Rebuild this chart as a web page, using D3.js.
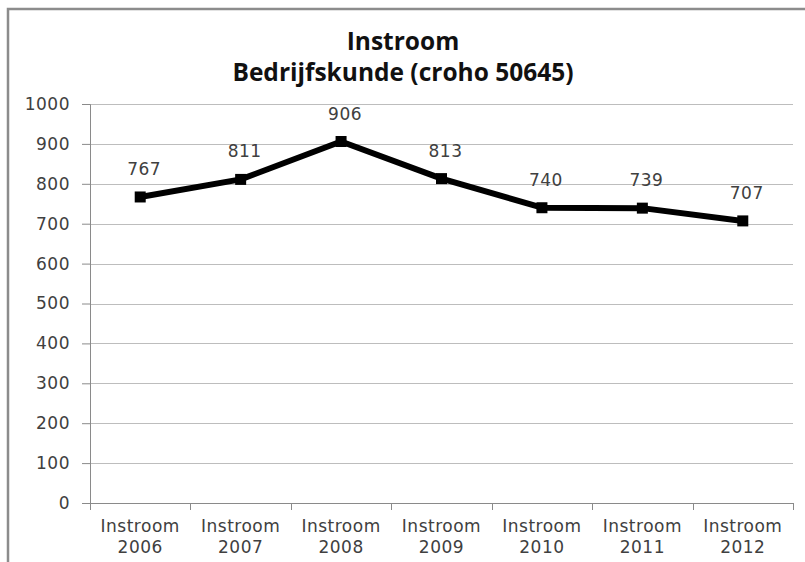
<!DOCTYPE html>
<html>
<head>
<meta charset="utf-8">
<script src="https://cdn.jsdelivr.net/npm/d3@7"></script>
<style>
    body { margin: 0; background: #fff; }
    svg { display: block; }
</style>
</head>
<body>
<div id="wrapper"></div>
<script>
// data
const years = ['2006', '2007', '2008', '2009', '2010', '2011', '2012']
const instroom = [767, 811, 906, 813, 740, 739, 707]
const yTicks = [0, 100, 200, 300, 400, 500, 600, 700, 800, 900, 1000]
const titleLines = ['Instroom', 'Bedrijfskunde (croho 50645)']

const data = years.map((y, i) => ({ year: y, value: instroom[i] }))
const xAccessor = d => d.year
const yAccessor = d => d.value

// dimensions
const dms = {
    width: 805,
    height: 562,
    margins: { top: 104, right: 12, bottom: 59, left: 90 }
}
dms.boundedWidth = dms.width - dms.margins.left - dms.margins.right
dms.boundedHeight = dms.height - dms.margins.top - dms.margins.bottom

const labelFont = sel => sel
    .style('font-family', '"DejaVu Sans", sans-serif')
    .style('font-size', '17px')
    .style('letter-spacing', '0.5px')
    .attr('fill', '#404040')

const wrapper = d3.select('#wrapper')
    .append('svg')
        .attr('width', dms.width)
        .attr('height', dms.height)

// outer chart border (right/bottom edges fall outside the frame)
wrapper.append('rect')
    .attr('x', 8)
    .attr('y', 9)
    .attr('width', dms.width + 20)
    .attr('height', dms.height + 20)
    .attr('fill', 'none')
    .attr('stroke', '#8c8c8c')
    .attr('stroke-width', 2.5)

// title
wrapper.append('text')
    .attr('x', 403)
    .attr('y', 50)
    .attr('text-anchor', 'middle')
    .style('font-family', '"Open Sans", sans-serif')
    .style('font-weight', 700)
    .style('font-size', '24.5px')
    .attr('fill', '#111')
    .selectAll('tspan')
    .data(titleLines)
    .join('tspan')
        .attr('x', 403)
        .attr('dy', (d, i) => i === 0 ? 0 : 31)
        .text(d => d)

const bounds = wrapper.append('g')
    .attr('transform', `translate(${dms.margins.left},${dms.margins.top})`)

// scales
const xScale = d3.scaleBand()
    .domain(years)
    .range([0, dms.boundedWidth])

const yScale = d3.scaleLinear()
    .domain([0, 1000])
    .range([dms.boundedHeight, 0])

// gridlines
bounds.append('g')
    .selectAll('line')
    .data(yTicks.filter(t => t > 0))
    .join('line')
        .attr('x1', 0)
        .attr('x2', dms.boundedWidth)
        .attr('y1', d => Math.round(yScale(d)) + 0.5)
        .attr('y2', d => Math.round(yScale(d)) + 0.5)
        .attr('stroke', '#bdbdbd')
        .attr('stroke-width', 1)

// y axis
const yAxis = bounds.append('g')
    .call(d3.axisLeft(yScale)
        .tickValues(yTicks)
        .tickFormat(d3.format('d'))
        .tickSize(8)
        .tickPadding(12))
yAxis.select('.domain').attr('stroke', '#8a8a8a')
yAxis.selectAll('.tick line').attr('stroke', '#8a8a8a')
yAxis.selectAll('.tick text').call(labelFont)

// x axis
const xAxis = bounds.append('g')
    .attr('transform', `translate(0,${dms.boundedHeight})`)
xAxis.append('line')
    .attr('x1', 0)
    .attr('x2', dms.boundedWidth)
    .attr('y1', 0.5)
    .attr('y2', 0.5)
    .attr('stroke', '#8a8a8a')
xAxis.selectAll('.xtick')
    .data([...years.map(y => xScale(y)), xScale.range()[1]])
    .join('line')
        .attr('class', 'xtick')
        .attr('x1', d => Math.round(d) + 0.5)
        .attr('x2', d => Math.round(d) + 0.5)
        .attr('y1', 0)
        .attr('y2', 7)
        .attr('stroke', '#8a8a8a')
const xLabels = xAxis.selectAll('.xlabel')
    .data(years)
    .join('text')
        .attr('class', 'xlabel')
        .attr('text-anchor', 'middle')
        .call(labelFont)
xLabels.append('tspan')
    .attr('x', d => xScale(d) + xScale.bandwidth() / 2)
    .attr('y', 29)
    .text('Instroom')
xLabels.append('tspan')
    .attr('x', d => xScale(d) + xScale.bandwidth() / 2)
    .attr('y', 50)
    .text(d => d)

// line
const lineGenerator = d3.line()
    .x(d => xScale(xAccessor(d)) + xScale.bandwidth() / 2)
    .y(d => yScale(yAccessor(d)))

bounds.append('path')
    .attr('d', lineGenerator(data))
    .attr('fill', 'none')
    .attr('stroke', '#000')
    .attr('stroke-width', 6)
    .attr('stroke-linejoin', 'round')

// markers
const mk = 11
bounds.selectAll('.marker')
    .data(data)
    .join('rect')
        .attr('class', 'marker')
        .attr('x', d => xScale(xAccessor(d)) + xScale.bandwidth() / 2 - mk / 2)
        .attr('y', d => yScale(yAccessor(d)) - mk / 2)
        .attr('width', mk)
        .attr('height', mk)
        .attr('fill', '#000')

// value labels
bounds.selectAll('.value')
    .data(data)
    .join('text')
        .attr('class', 'value')
        .attr('x', d => xScale(xAccessor(d)) + xScale.bandwidth() / 2 + 4)
        .attr('y', d => yScale(yAccessor(d)) - 22)
        .attr('text-anchor', 'middle')
        .call(labelFont)
        .text(d => yAccessor(d))
</script>
</body>
</html>
